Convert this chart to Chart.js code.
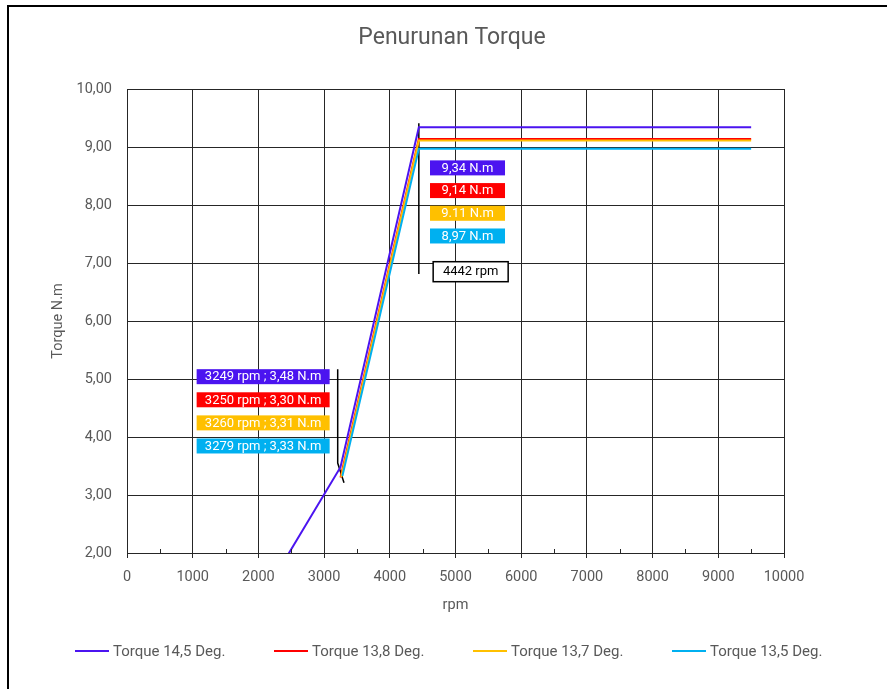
<!DOCTYPE html>
<html>
<head>
  <title>Penurunan Torque</title>
  <script src="https://cdn.jsdelivr.net/npm/chart.js@4.4.1/dist/chart.umd.min.js"></script>
  <style>
    body { margin: 0; background: #fff; }
  </style>
  <script>
    // series data (rpm, N.m)
    var blueRpm = [2000, 3249, 4442, 9500];
    var blueTorque = [1.12, 3.48, 9.34, 9.34];
    var redRpm = [3250, 4442, 9500];
    var redTorque = [3.30, 9.14, 9.14];
    var orangeRpm = [3260, 4442, 9500];
    var orangeTorque = [3.31, 9.11, 9.11];
    var cyanRpm = [3279, 4442, 9500];
    var cyanTorque = [3.33, 8.97, 8.97];

    var seriesNames = ['Torque 14,5 Deg.', 'Torque 13,8 Deg.', 'Torque 13,7 Deg.', 'Torque 13,5 Deg.'];
    var seriesColors = ['#4B14F0', '#FF0000', '#FFC000', '#00B0F0'];

    // leader lines of the data labels
    var peakLeaderRpm = [4442, 4442];
    var peakLeaderTorque = [9.41, 6.81];
    var kneeLeaderRpm = [3207, 3207, 3303];
    var kneeLeaderTorque = [5.17, 3.55, 3.21];

    var peakLabels = ['9,34 N.m', '9,14 N.m', '9.11 N.m', '8,97 N.m'];
    var kneeLabels = ['3249 rpm ; 3,48 N.m', '3250 rpm ; 3,30 N.m', '3260 rpm ; 3,31 N.m', '3279 rpm ; 3,33 N.m'];
    var peakRpmLabel = '4442 rpm';

    var xTicks = [0, 1000, 2000, 3000, 4000, 5000, 6000, 7000, 8000, 9000, 10000];
    var yTicks = [2, 3, 4, 5, 6, 7, 8, 9, 10];

    var FONT = 'Roboto, "Liberation Sans", sans-serif';

    function pts(xs, ys) {
      return xs.map((x, i) => ({ x: x, y: ys[i] }));
    }

    function drawChart() {
      var ctx = document.getElementById('torque').getContext('2d');

      var decor = {
        id: 'decor',
        beforeDraw(chart) {
          var c = chart.ctx;
          c.save();
          c.fillStyle = '#fff';
          c.fillRect(0, 0, chart.width, chart.height);
          c.strokeStyle = '#000';
          c.lineWidth = 2;
          c.beginPath();
          c.moveTo(8, chart.height);
          c.lineTo(8, 6);
          c.lineTo(chart.width, 6);
          c.stroke();
          c.restore();
        },
        afterDatasetsDraw(chart) {
          var c = chart.ctx;
          var xs = chart.scales.x, ys = chart.scales.y;
          var bottom = chart.chartArea.bottom;
          c.save();
          // minor ticks on the rpm axis
          c.strokeStyle = '#262626';
          c.lineWidth = 1;
          for (var v = 500; v < 10000; v += 1000) {
            var px = Math.round(xs.getPixelForValue(v)) + 0.5;
            c.beginPath();
            c.moveTo(px, bottom);
            c.lineTo(px, bottom - 4);
            c.stroke();
          }

          c.font = '13px ' + FONT;
          c.textAlign = 'center';
          c.textBaseline = 'middle';

          // labels at the peak
          var left = xs.getPixelForValue(4612);
          var top0 = ys.getPixelForValue(8.64);
          peakLabels.forEach(function (t, i) {
            var cy = top0 + i * 22.7;
            c.fillStyle = seriesColors[i];
            c.fillRect(left, cy - 7.5, 75, 15);
            c.fillStyle = '#fff';
            c.fillText(t, left + 37.5, cy + 0.5);
          });

          // rpm label at the peak
          var bx = xs.getPixelForValue(4660), by = ys.getPixelForValue(6.85);
          c.fillStyle = '#fff';
          c.fillRect(bx, by - 10, 75, 20);
          c.strokeStyle = '#000';
          c.lineWidth = 1.5;
          c.strokeRect(bx, by - 10, 75, 20);
          c.fillStyle = '#000';
          c.fillText(peakRpmLabel, bx + 37.5, by + 0.5);

          // labels at the knee
          var kl = xs.getPixelForValue(1060);
          var k0 = ys.getPixelForValue(5.04);
          kneeLabels.forEach(function (t, i) {
            var cy = k0 + i * 23.1;
            c.fillStyle = seriesColors[i];
            c.fillRect(kl, cy - 7.5, 133, 15);
            c.fillStyle = '#fff';
            c.fillText(t, kl + 66.5, cy + 0.5);
          });
          c.restore();
        },
        afterDraw(chart) {
          var c = chart.ctx;
          c.save();
          c.fillStyle = '#595959';
          c.textBaseline = 'middle';
          c.textAlign = 'center';
          c.font = '23px ' + FONT;
          c.fillText('Penurunan Torque', 452, 38);

          // legend
          c.font = '15px ' + FONT;
          c.textAlign = 'left';
          var starts = [75, 274, 473, 672];
          seriesNames.forEach(function (n, i) {
            c.strokeStyle = seriesColors[i];
            c.lineWidth = 2;
            c.beginPath();
            c.moveTo(starts[i], 651);
            c.lineTo(starts[i] + 34, 651);
            c.stroke();
            c.fillStyle = '#595959';
            c.fillText(n, starts[i] + 38, 652);
          });
          c.restore();
        }
      };

      var datasets = seriesNames.map(function (n, i) {
        var xsArr = [blueRpm, redRpm, orangeRpm, cyanRpm][i];
        var ysArr = [blueTorque, redTorque, orangeTorque, cyanTorque][i];
        return {
          label: n,
          data: pts(xsArr, ysArr),
          borderColor: seriesColors[i],
          backgroundColor: seriesColors[i],
          borderWidth: 2,
          pointRadius: 0,
          tension: 0
        };
      }).reverse();

      datasets.push({
        label: 'leader1',
        data: pts(peakLeaderRpm, peakLeaderTorque),
        borderColor: '#000',
        borderWidth: 1.5,
        pointRadius: 0
      });
      datasets.push({
        label: 'leader2',
        data: pts(kneeLeaderRpm, kneeLeaderTorque),
        borderColor: '#000',
        borderWidth: 1.5,
        pointRadius: 0
      });

      var chart = new Chart(ctx, {
        type: 'line',
        data: { datasets: datasets },
        options: {
          responsive: false,
          animation: false,
          layout: { padding: { top: 89, right: 103, bottom: 74, left: 0 } },
          plugins: {
            legend: { display: false },
            title: { display: false },
            tooltip: { enabled: false }
          },
          scales: {
            x: {
              type: 'linear',
              min: 0,
              max: 10000,
              afterBuildTicks: function (s) { s.ticks = xTicks.map(v => ({ value: v })); },
              afterFit: function (s) { s.height = 62; },
              grid: { color: '#262626', lineWidth: 1, tickLength: 5 },
              border: { color: '#262626', width: 1 },
              ticks: {
                color: '#595959',
                font: { family: FONT, size: 14.5 },
                padding: 11,
                maxRotation: 0,
                callback: function (v) { return String(v); }
              },
              title: {
                display: true,
                text: 'rpm',
                color: '#595959',
                font: { family: FONT, size: 14.5 },
                padding: { top: 0, bottom: 1 }
              }
            },
            y: {
              min: 2,
              max: 10,
              afterBuildTicks: function (s) { s.ticks = yTicks.map(v => ({ value: v })); },
              afterFit: function (s) { s.width = 127; },
              grid: { color: '#262626', lineWidth: 1, drawTicks: false },
              border: { color: '#262626', width: 1 },
              ticks: {
                color: '#595959',
                font: { family: FONT, size: 14.5 },
                padding: 15,
                callback: function (v) { return v.toFixed(2).replace('.', ','); }
              },
              title: {
                display: true,
                text: 'Torque N.m',
                color: '#595959',
                font: { family: FONT, size: 14.5 },
                padding: { top: 50, bottom: 0 }
              }
            }
          }
        },
        plugins: [decor]
      });
      return chart;
    }
    window.onload = drawChart;
  </script>
</head>
<body>
  <canvas id="torque" width="887" height="689"></canvas>
</body>
</html>
